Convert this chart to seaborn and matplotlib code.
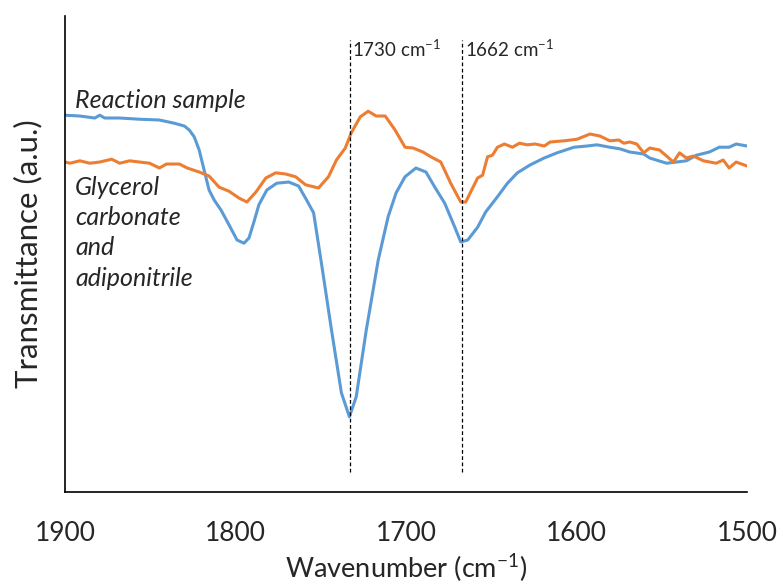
import numpy as np
import pandas as pd
import matplotlib
matplotlib.use("Agg")
import matplotlib.pyplot as plt
import seaborn as sns

# Reaction sample (blue)
wn_reaction = [1900, 1891.3, 1882.5, 1879.6, 1876.7, 1867.9, 1856.3, 1844.6, 1835.9, 1830.0,
               1827.1, 1824.2, 1821.3, 1818.4, 1815.5, 1812.5, 1808.5, 1803.8, 1799.1, 1795.0,
               1792.1, 1789.2, 1786.3, 1781.6, 1775.8, 1768.8, 1763.0, 1758.3, 1754.2, 1749.6,
               1743.7, 1737.9, 1733.2, 1729.2, 1723.3, 1716.3, 1710.5, 1705.8, 1700.6, 1694.2,
               1688.3, 1683.1, 1677.3, 1671.4, 1667.9, 1663.8, 1658.0, 1653.3, 1646.4, 1640.5,
               1634.7, 1627.1, 1619.0, 1611.4, 1601.5, 1593.9, 1588.0, 1580.5, 1574.6, 1568.8,
               1560.6, 1557.1, 1547.2, 1541.4, 1535.6, 1529.7, 1522.1, 1516.3, 1510.5, 1506.4,
               1500]
t_reaction = [96.2, 96.0, 95.5, 96.2, 95.5, 95.5, 95.2, 95.0, 94.2, 93.5,
              92.5, 90.8, 87.5, 82.5, 77.5, 75.0, 72.5, 68.8, 65.0, 64.2,
              65.5, 69.5, 73.8, 77.5, 79.2, 79.5, 78.5, 75.0, 71.8, 59.2,
              42.5, 26.8, 20.8, 25.8, 42.5, 60.0, 70.8, 76.8, 80.8, 83.0,
              82.0, 78.2, 74.2, 68.2, 64.5, 65.0, 68.2, 72.0, 75.8, 79.2,
              81.8, 83.8, 85.5, 86.8, 88.2, 88.5, 88.8, 88.2, 87.8, 87.0,
              86.5, 85.5, 84.2, 84.5, 84.8, 86.2, 87.0, 88.2, 88.2, 89.0,
              88.5]

# Glycerol carbonate and adiponitrile (orange)
wn_reference = [1900, 1897.1, 1891.3, 1885.4, 1879.6, 1872.6, 1867.9, 1862.1, 1856.3, 1850.4,
                1844.6, 1840.5, 1832.9, 1828.3, 1821.3, 1815.5, 1809.6, 1803.8, 1798.0, 1793.3,
                1788.0, 1782.2, 1776.4, 1770.6, 1764.7, 1758.9, 1751.3, 1745.5, 1740.8, 1735.6,
                1732.1, 1726.8, 1722.2, 1717.5, 1712.2, 1706.4, 1700.6, 1695.9, 1690.1, 1685.4,
                1679.6, 1673.8, 1667.9, 1665.0, 1658.0, 1655.1, 1652.2, 1649.3, 1646.4, 1642.3,
                1637.6, 1633.5, 1628.9, 1624.2, 1618.9, 1615.5, 1607.3, 1599.7, 1592.1, 1586.3,
                1580.5, 1575.2, 1572.3, 1568.8, 1564.7, 1560.6, 1557.1, 1551.3, 1543.2, 1539.6,
                1535.6, 1531.5, 1525.6, 1518.1, 1514.0, 1510.5, 1506.4, 1500]
t_reference = [84.5, 84.2, 84.8, 84.2, 84.5, 85.2, 84.2, 84.8, 84.5, 84.2,
               83.0, 84.0, 84.0, 83.0, 82.0, 81.0, 78.2, 77.2, 75.5, 74.5,
               77.0, 80.5, 81.8, 81.5, 80.8, 78.8, 78.0, 80.8, 85.0, 88.0,
               91.8, 95.8, 97.2, 96.0, 96.0, 92.5, 88.2, 88.0, 87.0, 85.8,
               84.5, 79.2, 74.5, 74.5, 80.5, 81.2, 85.8, 86.2, 88.2, 89.0,
               88.2, 89.2, 88.8, 89.0, 88.5, 89.5, 89.8, 90.2, 91.5, 91.0,
               89.8, 90.0, 89.2, 89.5, 89.0, 86.8, 88.0, 87.5, 84.5, 86.8,
               85.5, 86.0, 84.8, 84.2, 85.0, 83.0, 84.5, 83.5]

# marked bands: drawn position and printed label
band_pos = [1733, 1667]
band_labels = ["1730", "1662"]

xticks = [1900, 1800, 1700, 1600, 1500]

sns.set_style("white")
plt.rcParams['font.family'] = ['Lato', 'DejaVu Sans']

fig = plt.figure(figsize=(7.79, 5.85), dpi=100)
ax = fig.add_axes([0.0834, 0.159, 0.8756, 0.8136])

df_r = pd.DataFrame({'wn': wn_reaction, 't': t_reaction})
df_g = pd.DataFrame({'wn': wn_reference, 't': t_reference})
sns.lineplot(data=df_r, x='wn', y='t', ax=ax, color='#5B9BD5', linewidth=2.2, sort=False,
             solid_joinstyle='round', solid_capstyle='round')
sns.lineplot(data=df_g, x='wn', y='t', ax=ax, color='#ED7D31', linewidth=2.2, sort=False,
             solid_joinstyle='round', solid_capstyle='round')

for pos, lab in zip(band_pos, band_labels):
    ax.vlines(pos, 7, 115, colors='black', linestyles=(0, (3, 2)), linewidth=0.9)
    ax.text(pos - 1.5, 110, lab + r" cm$^{\mathregular{-1}}$", fontsize=13.5, ha='left', va='bottom')

ax.text(1894, 100, "Reaction sample", fontsize=18, style='italic', va='center')
ax.text(1894, 81, "Glycerol\ncarbonate\nand\nadiponitrile", fontsize=18, style='italic',
        va='top', linespacing=1.38)

ax.set_xlim(1900, 1500)
ax.set_ylim(2, 121)
ax.set_xticks(xticks)
ax.set_yticks([])
ax.tick_params(axis='x', direction='inout', length=18, width=1, labelsize=19, pad=12)
for s in ['top', 'right']:
    ax.spines[s].set_visible(False)
for s in ['left', 'bottom']:
    ax.spines[s].set_color('black')
    ax.spines[s].set_linewidth(1.2)

ax.set_xlabel(r"Wavenumber (cm$^{\mathregular{-1}}$)", fontsize=19.5, labelpad=4)
ax.set_ylabel("Transmittance (a.u.)", fontsize=22.5, labelpad=16)

fig.savefig("out.png", dpi=100)
